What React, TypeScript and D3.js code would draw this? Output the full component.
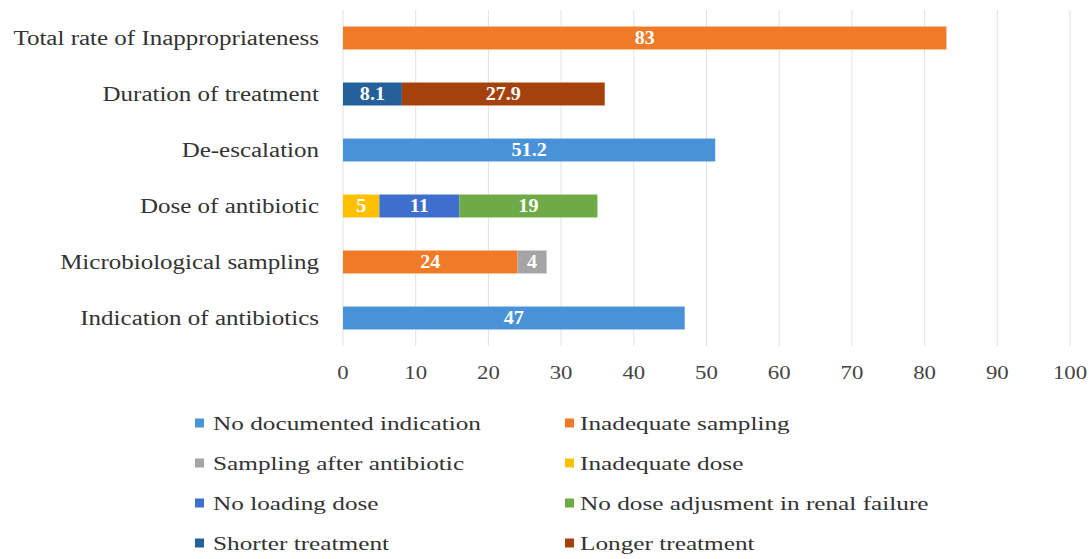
import React from "react";
import * as d3 from "d3";

const categories = [
  "Total rate of Inappropriateness",
  "Duration of treatment",
  "De-escalation",
  "Dose of antibiotic",
  "Microbiological sampling",
  "Indication of antibiotics",
];

const seriesNames = [
  "No documented indication",
  "Inadequate sampling",
  "Sampling after antibiotic",
  "Inadequate dose",
  "No loading dose",
  "No dose adjusment in renal failure",
  "Shorter treatment",
  "Longer treatment",
];

const seriesColors = ["#4a92d8", "#f07a28", "#a5a5a5", "#ffc000", "#3f6fcc", "#6eaa46", "#24609a", "#a5420c"];

// values per series, in category order (0 = absent)
const noDocumented = [0, 0, 51.2, 0, 0, 47];
const inadequateSampling = [83, 0, 0, 0, 24, 0];
const samplingAfter = [0, 0, 0, 0, 4, 0];
const inadequateDose = [0, 0, 0, 5, 0, 0];
const noLoading = [0, 0, 0, 11, 0, 0];
const noAdjust = [0, 0, 0, 19, 0, 0];
const shorter = [0, 8.1, 0, 0, 0, 0];
const longer = [0, 27.9, 0, 0, 0, 0];

// stacking order within each bar (left to right)
const stackOrder = [6, 7, 0, 3, 4, 5, 1, 2];

const xTicks = [0, 10, 20, 30, 40, 50, 60, 70, 80, 90, 100];

const seriesValues = [noDocumented, inadequateSampling, samplingAfter, inadequateDose, noLoading, noAdjust, shorter, longer];

export default function App() {
  const W = 1091, H = 559;
  const left = 343, right = 1070, top = 10, bottom = 346;
  const x = d3.scaleLinear().domain([0, 100]).range([left, right]);
  const y = d3.scaleBand().domain(categories).range([top, bottom]).paddingInner(0.59).paddingOuter(0.295);
  const font = "Liberation Serif";

  const segs: any[] = [];
  categories.forEach((c, ci) => {
    let acc = 0;
    stackOrder.forEach((si) => {
      const v = seriesValues[si][ci];
      if (v > 0) {
        segs.push({ c, si, x0: acc, x1: acc + v, v });
        acc += v;
      }
    });
  });

  return (
    <svg width={W} height={H} style={{ position: "absolute", left: 0, top: 0, background: "#fff", fontFamily: font }}>
      {xTicks.map((t) => (
        <line key={t} x1={x(t)} x2={x(t)} y1={top} y2={bottom} stroke="#e2e2e2" strokeWidth={1} />
      ))}
      {segs.map((s, i) => (
        <rect key={i} x={x(s.x0)} y={y(s.c)} width={x(s.x1) - x(s.x0)} height={y.bandwidth()} fill={seriesColors[s.si]} />
      ))}
      {segs.map((s, i) => {
        const cx = (x(s.x0) + x(s.x1)) / 2;
        const cy = y(s.c)! + y.bandwidth() / 2 + 6;
        return (
          <text key={"l" + i} transform={`translate(${cx},${cy}) scale(1.12,1)`} textAnchor="middle" fill="#fff"
            style={{ fontFamily: font }} fontWeight="bold" fontSize={18}>{String(s.v)}</text>
        );
      })}
      {categories.map((c) => (
        <text key={c} transform={`translate(319,${y(c)! + y.bandwidth() / 2 + 7}) scale(1.25,1)`} textAnchor="end"
          fill="#333" style={{ fontFamily: font }} fontSize={20}>{c}</text>
      ))}
      {xTicks.map((t) => (
        <text key={"t" + t} transform={`translate(${x(t)},${379}) scale(1.2,1)`} textAnchor="middle"
          fill="#444" style={{ fontFamily: font }} fontSize={19}>{t}</text>
      ))}
      {seriesNames.map((n, i) => {
        const col = i % 2, row = Math.floor(i / 2);
        const lx = col === 0 ? 195 : 565;
        const tx = col === 0 ? 213 : 580;
        const ly = 423 + row * 40;
        return (
          <g key={n}>
            <rect x={lx} y={ly - 4.5} width={9} height={9} fill={seriesColors[i]} />
            <text transform={`translate(${tx},${ly + 7}) scale(1.33,1)`} fill="#333" style={{ fontFamily: font }} fontSize={19}>{n}</text>
          </g>
        );
      })}
    </svg>
  );
}
